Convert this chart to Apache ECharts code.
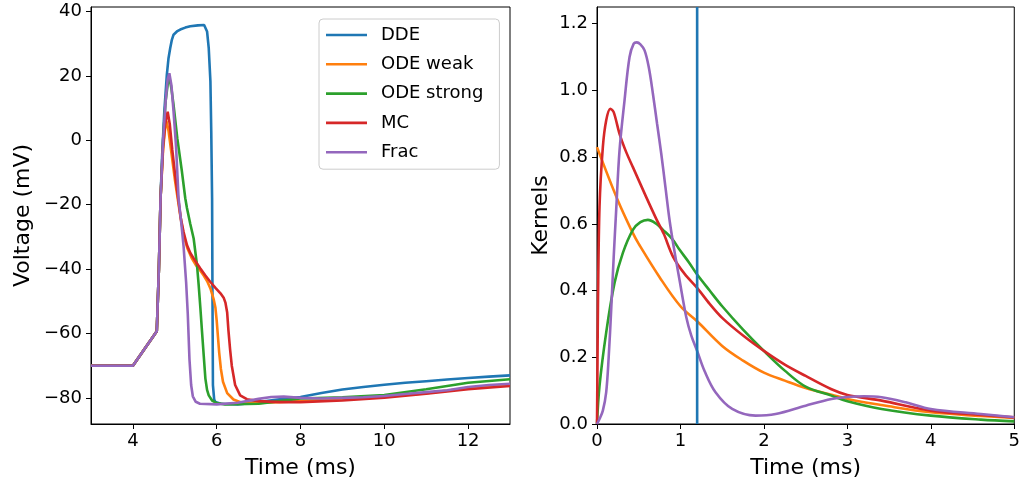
<!DOCTYPE html>
<html>
<head>
<meta charset="utf-8">
<script src="https://cdn.jsdelivr.net/npm/echarts@6/dist/echarts.min.js"></script>
<style>
html,body{margin:0;padding:0;background:#fff;}
#chart{width:1023px;height:484px;}
</style>
</head>
<body>
<div id="chart"></div>
<script>
// ---------- Data ----------
const seriesNames = ['DDE', 'ODE weak', 'ODE strong', 'MC', 'Frac'];
const colors = ['#1f77b4', '#ff7f0e', '#2ca02c', '#d62728', '#9467bd'];

// Left panel: voltage traces [time (ms), voltage (mV)]
const voltDDE = [[3,-70],[4,-70],[4.57,-59.3],[4.62,-40],[4.66,-18],[4.7,-4],[4.75,9],[4.81,20.3],[4.85,25.5],[4.89,28.6],[4.93,31.2],[4.97,32.8],[5.05,33.8],[5.13,34.4],[5.25,35],[5.37,35.4],[5.55,35.7],[5.7,35.8],[5.74,35.4],[5.77,33.8],[5.81,28.6],[5.85,18.3],[5.87,2.8],[5.89,-18],[5.9,-50],[5.91,-76],[5.94,-80.5],[5.97,-81.3],[6.1,-81.8],[6.5,-82],[7,-81.3],[7.5,-80.4],[8,-79.7],[8.5,-78.5],[9,-77.4],[9.5,-76.6],[10,-75.9],[10.5,-75.3],[11,-74.8],[11.5,-74.3],[12,-73.8],[12.5,-73.4],[13,-73]];
const voltODEweak = [[3,-70],[4,-70],[4.57,-59.3],[4.62,-40],[4.66,-18],[4.72,-3],[4.77,4],[4.8,6],[4.85,3],[4.92,-4],[5.0,-12],[5.08,-19],[5.15,-25],[5.22,-30],[5.3,-33.5],[5.4,-36.5],[5.5,-38.7],[5.61,-40.5],[5.69,-42],[5.77,-43.7],[5.85,-46],[5.93,-49.5],[5.97,-52],[6.0,-56],[6.03,-61],[6.06,-66],[6.1,-71],[6.15,-75],[6.25,-78.5],[6.4,-80.5],[6.6,-81.5],[7,-81.6],[8,-81],[9,-80.5],[10,-79.6],[11,-78.5],[12,-77],[13,-75.8]];
const voltODEstrong = [[3,-70],[4,-70],[4.57,-59.3],[4.62,-40],[4.66,-18],[4.72,0],[4.78,12],[4.84,18.5],[4.87,19.5],[4.92,16],[4.97,11],[5.06,0.6],[5.17,-9.7],[5.25,-18],[5.29,-21],[5.37,-26],[5.45,-30.5],[5.53,-38.8],[5.57,-45],[5.61,-52],[5.65,-59.5],[5.69,-66.8],[5.73,-74],[5.77,-77.5],[5.81,-79.2],[5.89,-80.8],[6,-81.6],[6.2,-82],[7,-81.8],[7.5,-81],[8,-80.2],[9,-79.8],[10,-79.1],[11,-77.3],[12,-75.3],[13,-74.2]];
const voltMC = [[3,-70],[4,-70],[4.57,-59.3],[4.62,-40],[4.66,-18],[4.72,-2],[4.77,5],[4.83,8.9],[4.88,5],[4.94,-3],[5.01,-11],[5.08,-18],[5.14,-24],[5.21,-28.5],[5.29,-32.5],[5.37,-35],[5.49,-37.5],[5.61,-39.8],[5.73,-42],[5.85,-44],[5.97,-45.8],[6.09,-47.5],[6.17,-49],[6.21,-50.5],[6.25,-53.5],[6.28,-59],[6.32,-65],[6.36,-70],[6.44,-76],[6.56,-79.2],[6.72,-80.4],[7,-81],[7.5,-81.3],[8,-81.3],[9,-80.8],[10,-79.9],[11,-78.7],[12,-77.3],[13,-76.3]];
const voltFrac = [[3,-70],[4,-70],[4.57,-59.3],[4.62,-40],[4.66,-18],[4.72,0],[4.78,12],[4.83,19],[4.87,20.8],[4.92,17],[4.97,9],[5.03,-2],[5.09,-18],[5.15,-25],[5.21,-33],[5.27,-44],[5.31,-54],[5.35,-68],[5.39,-76],[5.43,-79.5],[5.5,-81.2],[5.6,-81.8],[6,-82],[6.5,-81.5],[7,-80.3],[7.3,-79.7],[7.6,-79.6],[8,-80],[8.5,-80.2],[9,-80],[9.5,-79.8],[10,-79.4],[10.5,-78.8],[11,-78.2],[11.5,-77.6],[12,-76.6],[12.5,-76],[13,-75.6]];

// Right panel: kernels [time (ms), kernel value]
const kernODEweak = [[0,0.83],[0.25,0.67],[0.43,0.572],[0.5,0.54],[0.75,0.44],[1.0,0.353],[1.2,0.308],[1.5,0.234],[1.75,0.19],[2.0,0.154],[2.25,0.13],[2.5,0.108],[2.81,0.088],[3.0,0.075],[3.5,0.053],[4.0,0.035],[4.6,0.024],[5.0,0.018]];
const kernODEstrong = [[0,0],[0.03,0.114],[0.11,0.274],[0.21,0.423],[0.31,0.513],[0.43,0.582],[0.52,0.605],[0.61,0.612],[0.7,0.602],[0.79,0.582],[0.9,0.555],[0.99,0.522],[1.1,0.485],[1.2,0.448],[1.35,0.4],[1.5,0.353],[1.75,0.283],[2.0,0.219],[2.25,0.16],[2.5,0.112],[2.81,0.085],[3.0,0.068],[3.41,0.045],[4.0,0.025],[4.6,0.013],[5.0,0.008]];
const kernMC = [[0,0],[0.005,0.15],[0.012,0.37],[0.03,0.65],[0.07,0.83],[0.11,0.91],[0.16,0.945],[0.2,0.935],[0.27,0.87],[0.35,0.815],[0.43,0.77],[0.59,0.68],[0.71,0.615],[0.8,0.57],[0.91,0.502],[1.05,0.45],[1.2,0.408],[1.35,0.36],[1.5,0.318],[1.75,0.265],[2.0,0.219],[2.25,0.178],[2.5,0.144],[2.81,0.104],[3.0,0.087],[3.41,0.07],[4.0,0.04],[4.6,0.027],[5.0,0.02]];
const kernFrac = [[0,0],[0.03,0.015],[0.07,0.04],[0.11,0.095],[0.14,0.2],[0.17,0.343],[0.2,0.5],[0.23,0.642],[0.27,0.82],[0.33,0.97],[0.39,1.10],[0.44,1.14],[0.477,1.144],[0.52,1.138],[0.57,1.12],[0.62,1.07],[0.67,0.99],[0.72,0.9],[0.77,0.81],[0.82,0.71],[0.87,0.61],[0.92,0.53],[0.99,0.43],[1.07,0.32],[1.13,0.265],[1.2,0.219],[1.29,0.158],[1.42,0.095],[1.62,0.045],[1.9,0.025],[2.14,0.03],[2.5,0.055],[2.81,0.075],[3.0,0.081],[3.2,0.083],[3.41,0.08],[3.7,0.065],[4.0,0.045],[4.6,0.03],[5.0,0.02]];
const ddeDelay = 1.2; // DDE kernel: a delay line at this time (ms)

// Tick labels
const leftXTicks = [4, 6, 8, 10, 12];
const leftYTicks = [-80, -60, -40, -20, 0, 20, 40];
const rightXTicks = [0, 1, 2, 3, 4, 5];
const rightYTicks = [0, 0.2, 0.4, 0.6, 0.8, 1.0, 1.2];

// ---------- Chart ----------
const FONT = 'DejaVu Sans';
const chart = echarts.init(document.getElementById('chart'), null, {renderer: 'canvas'});
const minusFmt = v => String(v).replace('-', '\u2212');

function axisCommon() {
  return {
    axisLine: {show: true, onZero: false, lineStyle: {color: '#000', width: 1}},
    axisTick: {show: true, length: 5, lineStyle: {color: '#000', width: 1}},
    splitLine: {show: false},
    axisLabel: {fontFamily: FONT, fontSize: 18, color: '#000'},
    nameTextStyle: {fontFamily: FONT, fontSize: 22, color: '#000'}
  };
}

function mk(base, extra) {
  const o = Object.assign({}, base, extra);
  o.axisTick = Object.assign({}, base.axisTick, extra.axisTick || {});
  o.axisLabel = Object.assign({}, base.axisLabel, extra.axisLabel || {});
  return o;
}

function line(name, data, ci, xi, yi, smooth) {
  return {
    name: name, type: 'line', data: data, xAxisIndex: xi, yAxisIndex: yi,
    showSymbol: false, symbol: 'none', clip: true,
    smooth: smooth || false,
    lineStyle: {color: colors[ci], width: 2.6},
    itemStyle: {color: colors[ci]},
    emphasis: {disabled: true}
  };
}

const option = {
  animation: false,
  backgroundColor: '#fff',
  grid: [
    {left: 91, top: 7, width: 419, height: 418, show: true, borderColor: '#000', borderWidth: 1, containLabel: false},
    {left: 597, top: 7, width: 419, height: 418, show: true, borderColor: '#000', borderWidth: 1, containLabel: false}
  ],
  xAxis: [
    mk(axisCommon(), {type: 'value', gridIndex: 0, min: 3, max: 13,
      name: 'Time (ms)', nameLocation: 'middle', nameGap: 33,
      axisTick: {customValues: leftXTicks},
      axisLabel: {customValues: leftXTicks, margin: 8, formatter: minusFmt}}),
    mk(axisCommon(), {type: 'value', gridIndex: 1, min: 0, max: 5,
      name: 'Time (ms)', nameLocation: 'middle', nameGap: 33,
      axisTick: {customValues: rightXTicks},
      axisLabel: {customValues: rightXTicks, margin: 8, formatter: v => String(v)}})
  ],
  yAxis: [
    mk(axisCommon(), {type: 'value', gridIndex: 0, min: -88.1, max: 41.4,
      name: 'Voltage (mV)', nameLocation: 'middle', nameGap: 57,
      axisTick: {customValues: leftYTicks},
      axisLabel: {customValues: leftYTicks, margin: 9, formatter: minusFmt}}),
    mk(axisCommon(), {type: 'value', gridIndex: 1, min: 0, max: 1.25,
      name: 'Kernels', nameLocation: 'middle', nameGap: 45,
      axisTick: {customValues: rightYTicks},
      axisLabel: {customValues: rightYTicks, margin: 9, formatter: v => v.toFixed(1)}})
  ],
  legend: {
    data: seriesNames,
    orient: 'vertical',
    left: 319, top: 19,
    padding: [7, 16, 8, 7],
    itemWidth: 41, itemHeight: 2.6, itemGap: 11.3,
    icon: 'rect',
    borderColor: '#cccccc', borderWidth: 1, borderRadius: 4,
    backgroundColor: 'rgba(255,255,255,0.8)',
    selectedMode: false,
    textStyle: {fontFamily: FONT, fontSize: 18, color: '#000', padding: [0, 0, 0, 9]}
  },
  series: [
    line('DDE', voltDDE, 0, 0, 0),
    line('ODE weak', voltODEweak, 1, 0, 0),
    line('ODE strong', voltODEstrong, 2, 0, 0),
    line('MC', voltMC, 3, 0, 0),
    line('Frac', voltFrac, 4, 0, 0),
    line('ODE weak', kernODEweak, 1, 1, 1, 0.35),
    line('ODE strong', kernODEstrong, 2, 1, 1, 0.35),
    line('MC', kernMC, 3, 1, 1, 0.3),
    line('Frac', kernFrac, 4, 1, 1, 0.35),
    line('DDE', [[ddeDelay, 0], [ddeDelay, 1.25]], 0, 1, 1)
  ]
};
chart.setOption(option);
</script>
</body>
</html>
